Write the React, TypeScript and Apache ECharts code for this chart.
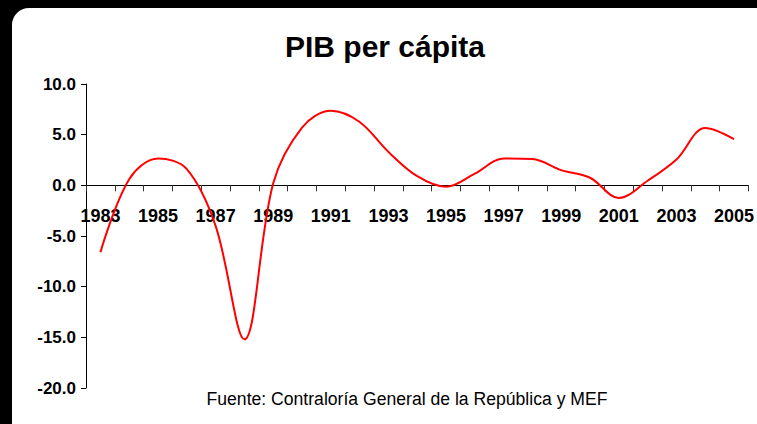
import React, { useEffect, useRef } from "react";
import * as echarts from "echarts";

const years = ["1983","1984","1985","1986","1987","1988","1989","1990","1991","1992","1993","1994","1995","1996","1997","1998","1999","2000","2001","2002","2003","2004","2005"];
const pibPerCapita = [-6.6, 0.6, 2.65, 1.6, -4.0, -15.2, 0.2, 5.7, 7.35, 6.25, 3.3, 0.9, -0.15, 1.15, 2.65, 2.6, 1.5, 0.75, -1.25, 0.45, 2.55, 5.65, 4.55];
const titleText = "PIB per cápita";
const sourceText = "Fuente: Contraloría General de la República y MEF";

export default function App() {
  const ref = useRef<HTMLDivElement>(null);
  useEffect(() => {
    const chart = echarts.init(ref.current!, null, { renderer: "svg" });
    const font = "'Liberation Sans', Arial, sans-serif";
    const gridTop = 84;
    const gridBottom = 36;
    const gridH = 424 - gridTop - gridBottom;
    const yMin = -20;
    const yMax = 10;
    const zeroOffset = -(gridH * (0 - yMin)) / (yMax - yMin);
    chart.setOption({
      animation: false,
      backgroundColor: "#000000",
      textStyle: { fontFamily: font },
      graphic: [
        {
          type: "rect",
          z: -10,
          shape: { x: 12, y: 8, width: 770, height: 440, r: 17 },
          style: { fill: "#ffffff" },
        },
        {
          type: "text",
          x: 385,
          y: 46,
          style: {
            text: titleText,
            fontSize: 30,
            fontWeight: "bold",
            fontFamily: font,
            fill: "#000000",
            align: "center",
            verticalAlign: "middle",
          },
        },
        {
          type: "text",
          x: 407,
          y: 399,
          style: {
            text: sourceText,
            fontSize: 17.6,
            fontFamily: font,
            fill: "#000000",
            align: "center",
            verticalAlign: "middle",
          },
        },
      ],
      grid: { left: 86, right: 5, top: gridTop, bottom: gridBottom, containLabel: false },
      xAxis: {
        type: "category",
        data: years,
        boundaryGap: true,
        position: "bottom",
        offset: zeroOffset,
        axisLine: { onZero: false, lineStyle: { color: "#000000", width: 1 } },
        axisTick: { show: true, interval: 0, length: 6, inside: false, lineStyle: { color: "#333333" } },
        axisLabel: {
          interval: 1,
          margin: 22,
          fontSize: 18,
          fontWeight: "bold",
          color: "#000000",
          fontFamily: font,
        },
        splitLine: { show: false },
      },
      yAxis: {
        type: "value",
        min: yMin,
        max: yMax,
        interval: 5,
        axisLine: { show: true, lineStyle: { color: "#000000", width: 1 } },
        axisTick: { show: true, length: 5, lineStyle: { color: "#000000" } },
        axisLabel: {
          margin: 10,
          fontSize: 17,
          fontWeight: "bold",
          color: "#000000",
          fontFamily: font,
          formatter: (v: number) => v.toFixed(1),
        },
        splitLine: { show: false },
      },
      series: [
        {
          type: "line",
          data: pibPerCapita,
          smooth: 0.35,
          showSymbol: false,
          symbol: "none",
          lineStyle: { color: "#ff0000", width: 2 },
        },
      ],
    });
    return () => chart.dispose();
  }, []);
  return <div ref={ref} style={{ position: "fixed", left: 0, top: 0, width: 757, height: 424 }} />;
}
